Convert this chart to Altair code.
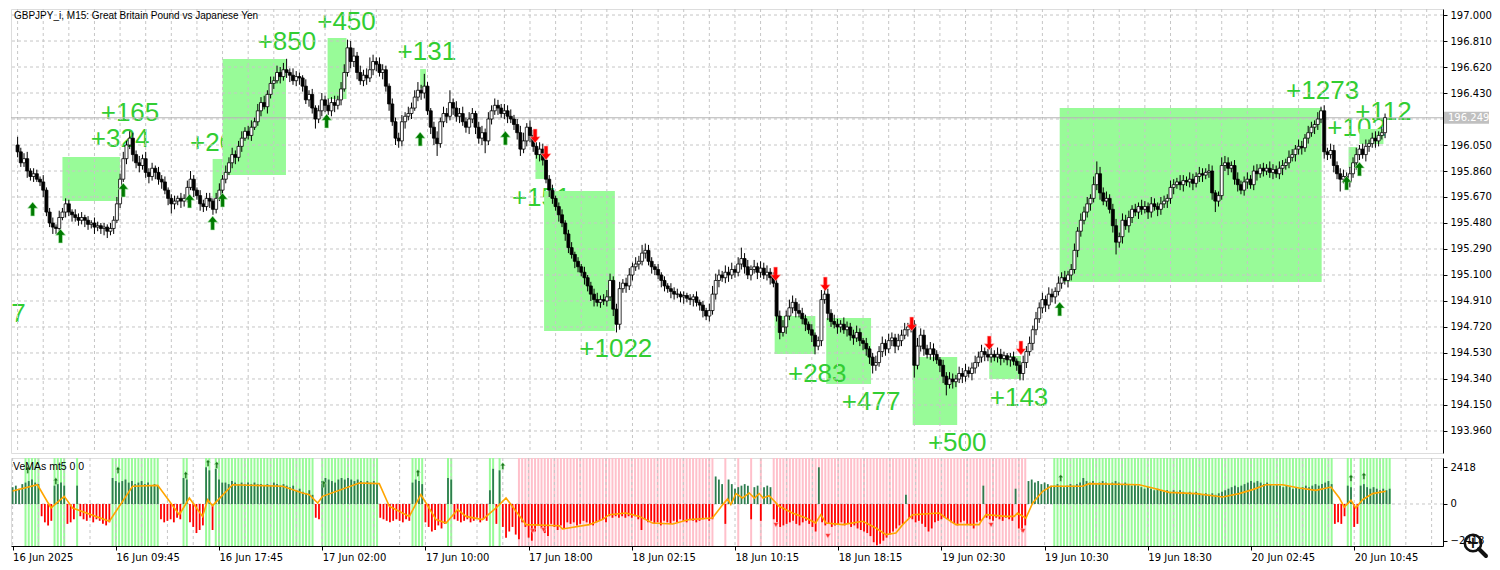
import json
import altair as alt
import pandas as pd

# ---------------- data ----------------
TITLE = "GBPJPY_i, M15:  Great Britain Pound vs Japanese Yen"
SUB_TITLE = "VeMAs mt5 0 0"
CURRENT = 196.249
FIRST_OPEN = 196.05

CLOSE = [
    196.00, 195.92, 195.95, 195.86, 195.82, 195.84, 195.80, 195.78, 195.72, 195.56,
    195.48, 195.45, 195.44, 195.52, 195.56, 195.62, 195.56, 195.54, 195.52, 195.50,
    195.52, 195.50, 195.47, 195.48, 195.45, 195.46, 195.44, 195.45, 195.42, 195.44,
    195.50, 195.62, 195.80, 195.95, 196.05, 196.10, 195.98, 195.92, 195.90, 195.95,
    195.85, 195.82, 195.88, 195.85, 195.80, 195.78, 195.72, 195.66, 195.62, 195.64,
    195.66, 195.64, 195.66, 195.74, 195.80, 195.72, 195.68, 195.62, 195.60, 195.66,
    195.64, 195.58, 195.66, 195.72, 195.80, 195.85, 195.92, 195.98, 195.96, 196.04,
    196.10, 196.15, 196.12, 196.18, 196.22, 196.30, 196.36, 196.33, 196.42, 196.50,
    196.52, 196.58, 196.55, 196.60, 196.58, 196.56, 196.52, 196.55, 196.54, 196.48,
    196.38, 196.42, 196.32, 196.24, 196.30, 196.38, 196.34, 196.30, 196.36, 196.34,
    196.38, 196.46, 196.58, 196.76, 196.66, 196.70, 196.58, 196.52, 196.56, 196.54,
    196.60, 196.66, 196.64, 196.58, 196.60, 196.48, 196.35, 196.22, 196.10, 196.08,
    196.22, 196.26, 196.28, 196.32, 196.40, 196.45, 196.43, 196.48, 196.30, 196.18,
    196.10, 196.06, 196.22, 196.28, 196.26, 196.36, 196.32, 196.26, 196.28, 196.22,
    196.18, 196.24, 196.28, 196.18, 196.10, 196.14, 196.08, 196.24, 196.30, 196.34,
    196.32, 196.28, 196.30, 196.26, 196.24, 196.20, 196.14, 196.02, 196.08, 196.18,
    196.12, 196.04, 195.98, 196.02, 195.94, 195.80, 195.72, 195.66, 195.60, 195.54,
    195.48, 195.40, 195.30, 195.25, 195.20, 195.16, 195.12, 195.08, 195.02, 194.96,
    194.92, 194.90, 194.92, 194.91, 194.94, 195.06, 194.85, 194.74, 195.00, 195.04,
    195.02, 195.10, 195.16, 195.18, 195.20, 195.26, 195.28, 195.20, 195.16, 195.14,
    195.10, 195.06, 195.02, 195.00, 194.98, 194.96, 194.96, 194.94, 194.95, 194.93,
    194.92, 194.94, 194.90, 194.88, 194.84, 194.80, 194.84, 194.96, 195.06, 195.10,
    195.08, 195.12, 195.10, 195.14, 195.12, 195.18, 195.22, 195.16, 195.10, 195.14,
    195.16, 195.12, 195.15, 195.10, 195.12, 195.08, 195.04, 194.80, 194.68, 194.72,
    194.80, 194.86, 194.90, 194.84, 194.82, 194.78, 194.74, 194.70, 194.66, 194.58,
    194.62, 194.92, 194.96, 194.82, 194.76, 194.74, 194.72, 194.74, 194.70, 194.72,
    194.66, 194.64, 194.68, 194.62, 194.60, 194.56, 194.50, 194.44, 194.46, 194.54,
    194.60, 194.56, 194.62, 194.64, 194.58, 194.62, 194.66, 194.70, 194.72, 194.74,
    194.44, 194.58, 194.66, 194.56, 194.52, 194.56, 194.52, 194.48, 194.44, 194.36,
    194.30, 194.34, 194.32, 194.34, 194.38, 194.36, 194.40, 194.38, 194.42, 194.46,
    194.50, 194.54, 194.52, 194.50, 194.52, 194.50, 194.52, 194.49, 194.51, 194.48,
    194.50, 194.47, 194.44, 194.38, 194.46, 194.54, 194.60, 194.70, 194.78, 194.86,
    194.92, 194.88, 194.96, 194.94, 194.98, 195.04, 195.08, 195.06, 195.10, 195.14,
    195.28, 195.42, 195.50, 195.56, 195.62, 195.66, 195.76, 195.84, 195.70, 195.64,
    195.66, 195.58, 195.46, 195.34, 195.38, 195.50, 195.46, 195.52, 195.58, 195.56,
    195.60, 195.58, 195.60, 195.56, 195.62, 195.60, 195.58, 195.62, 195.64, 195.66,
    195.74, 195.76, 195.78, 195.76, 195.79, 195.78, 195.80, 195.77, 195.82, 195.84,
    195.83, 195.85, 195.86, 195.70, 195.64, 195.68, 195.90, 195.92, 195.88, 195.90,
    195.80, 195.76, 195.72, 195.78, 195.80, 195.76, 195.86, 195.84, 195.88, 195.86,
    195.88, 195.85, 195.87, 195.84, 195.88, 195.90, 195.92, 195.96, 195.98, 196.02,
    196.04, 196.03, 196.10, 196.14, 196.18, 196.20, 196.24, 196.30, 196.00, 195.98,
    196.01, 195.90, 195.84, 195.80, 195.82, 195.78, 195.84, 195.92, 195.98, 196.02,
    195.98, 196.04, 196.06, 196.10, 196.08, 196.12, 196.14, 196.25,
]

# upper / lower shadow lengths, hundredths of a yen
WICK_HI = [
    6, 3, 4, 5, 2, 4, 3, 2, 5, 2,  3, 4, 2, 5, 3, 4, 3, 2, 4, 3,
    4, 2, 3, 2, 4, 3, 2, 3, 2, 4,  3, 5, 4, 5, 3, 5, 4, 3, 5, 3,
    5, 3, 4, 2, 4, 3, 4, 2, 3, 4,  2, 4, 3, 5, 6, 3, 2, 4, 3, 4,
    4, 2, 4, 5, 3, 5, 4, 5, 3, 4,  5, 3, 4, 5, 3, 5, 4, 5, 3, 5,
    3, 5, 4, 5, 8, 3, 5, 4, 3, 2,  5, 3, 4, 2, 4, 5, 3, 5, 4, 5,
    3, 5, 6, 6, 5, 6, 3, 5, 4, 5,  9, 5, 3, 5, 4, 3, 2, 4, 3, 4,
    5, 3, 5, 4, 5, 6, 4, 9, 3, 2,  4, 5, 3, 5, 4, 9, 3, 5, 4, 5,
    3, 5, 4, 2, 4, 5, 3, 5, 4, 5,  4, 3, 5, 4, 5, 3, 4, 5, 6, 3,
    5, 4, 3, 5, 4, 2, 3, 4, 2, 3,  4, 2, 3, 4, 2, 3, 2, 4, 2, 3,
    4, 5, 3, 4, 5, 5, 3, 4, 5, 3,  4, 5, 3, 5, 4, 6, 5, 4, 3, 2,
    4, 2, 3, 2, 4, 3, 4, 2, 3, 2,  3, 2, 4, 2, 3, 2, 5, 6, 5, 4,
    3, 5, 4, 5, 3, 5, 8, 4, 5, 3,  5, 3, 5, 4, 5, 3, 4, 3, 4, 5,
    4, 6, 5, 3, 5, 4, 3, 2, 4, 2,  3, 7, 5, 4, 3, 5, 4, 3, 5, 4,
    3, 4, 5, 3, 2, 4, 2, 3, 5, 4,  5, 3, 5, 4, 3, 5, 4, 5, 3, 4,
    3, 6, 5, 4, 3, 5, 4, 3, 2, 4,  3, 5, 4, 3, 5, 4, 5, 3, 4, 5,
    4, 5, 3, 4, 5, 3, 5, 4, 3, 2,  3, 4, 2, 3, 5, 4, 5, 3, 5, 4,
    5, 3, 5, 4, 3, 5, 4, 5, 3, 4,  5, 3, 5, 4, 5, 3, 6, 9, 5, 4,
    5, 3, 4, 5, 3, 5, 4, 5, 3, 4,  3, 5, 4, 3, 5, 4, 3, 5, 4, 3,
    5, 4, 3, 5, 4, 3, 5, 4, 3, 5,  4, 3, 5, 4, 2, 3, 6, 5, 4, 3,
    4, 5, 3, 4, 5, 3, 4, 5, 3, 4,  3, 5, 4, 3, 5, 4, 3, 5, 4, 3,
    5, 4, 3, 5, 4, 3, 5, 3, 4, 3,  5, 4, 3, 4, 5, 3, 5, 4, 5, 3,
    4, 5, 3, 4, 5, 3, 4, 3,
]
WICK_LO = [
    4, 3, 3, 5, 3, 4, 2, 3, 5, 3,  3, 5, 4, 3, 2, 4, 3, 5, 3, 4,
    3, 5, 4, 3, 5, 3, 4, 5, 5, 3,  4, 2, 3, 2, 4, 3, 5, 4, 5, 3,
    4, 5, 3, 5, 4, 5, 3, 5, 7, 4,  3, 5, 4, 3, 2, 5, 3, 5, 4, 3,
    5, 4, 3, 2, 4, 3, 2, 4, 5, 3,  4, 2, 3, 4, 2, 3, 4, 2, 5, 3,
    4, 2, 5, 3, 4, 5, 3, 4, 5, 4,  3, 5, 4, 7, 3, 4, 5, 3, 4, 5,
    3, 4, 2, 3, 5, 4, 5, 3, 4, 5,  3, 4, 5, 3, 5, 4, 5, 3, 5, 5,
    4, 5, 3, 4, 2, 3, 5, 4, 3, 5,  5, 9, 3, 4, 5, 3, 5, 4, 5, 3,
    4, 5, 3, 5, 4, 5, 9, 3, 4, 3,  5, 3, 4, 5, 3, 4, 5, 5, 3, 4,
    5, 4, 3, 5, 4, 3, 5, 4, 3, 5,  3, 5, 4, 3, 5, 4, 3, 5, 4, 5,
    5, 3, 4, 3, 4, 3, 5, 6, 4, 3,  5, 3, 4, 3, 4, 3, 4, 3, 5, 4,
    3, 5, 4, 3, 5, 4, 3, 4, 5, 3,  4, 5, 3, 4, 5, 3, 4, 3, 4, 5,
    3, 4, 5, 3, 4, 3, 4, 5, 3, 4,  3, 5, 4, 3, 4, 5, 3, 4, 5, 3,
    5, 3, 4, 5, 3, 4, 5, 3, 5, 6,  3, 4, 3, 5, 4, 3, 5, 4, 3, 5,
    4, 5, 3, 4, 5, 5, 5, 6, 4, 3,  4, 5, 3, 4, 5, 3, 4, 3, 5, 4,
    9, 3, 4, 5, 3, 4, 5, 3, 5, 5,  8, 3, 5, 4, 3, 5, 4, 3, 5, 4,
    3, 4, 5, 3, 4, 3, 4, 5, 3, 4,  5, 3, 4, 5, 5, 4, 3, 5, 4, 3,
    4, 5, 3, 4, 5, 3, 4, 3, 5, 4,  3, 5, 4, 3, 4, 5, 3, 4, 5, 3,
    4, 3, 5, 9, 4, 5, 3, 5, 4, 3,  5, 4, 3, 5, 4, 3, 5, 4, 3, 5,
    4, 5, 3, 4, 5, 3, 4, 5, 3, 4,  5, 3, 4, 5, 8, 4, 3, 4, 5, 3,
    4, 5, 3, 4, 5, 3, 4, 5, 3, 4,  3, 4, 5, 3, 4, 5, 3, 4, 3, 5,
    4, 5, 3, 4, 3, 5, 4, 3, 5, 4,  3, 5, 4, 9, 3, 5, 4, 3, 5, 4,
    3, 5, 4, 3, 5, 4, 3, 4,
]

# oscillator histogram, hundreds
HIST = [
    11, 12, 10, 13, 14, 15, 16, 14, 13, -8,
    -12, -14, -11, 12, 13, 14, 12, -13, -12, -10,
    12, -8, -10, -11, -9, -12, -10, -11, -13, -14,
    -12, 17, 15, 14, 15, 16, 14, 15, 13, 14,
    15, 13, 14, 12, 13, 12, -10, -12, -11, -10,
    -12, -9, -10, 17, 16, -12, -15, -19, -17, -14,
    24, 22, -17, 23, 16, 14, 14, 13, 15, 14,
    13, 14, 13, 14, 13, 14, 13, 13, 12, 13,
    12, 14, 13, 12, 13, 12, 11, 12, 9, 10,
    8, 7, 9, 6, -9, -10, 15, 17, 16, 15,
    14, 16, 17, 16, 17, 16, 15, 16, 15, 14,
    15, 14, 15, 13, -9, -10, -11, -12, -11, -10,
    -11, -12, -10, -11, 14, 16, 15, 13, -12, -15,
    -18, -17, -14, -16, -13, 17, 16, -10, -11, -12,
    -11, -10, -12, -11, -9, -12, -10, -11, 9, 23,
    -13, 22, -15, -22, -18, -15, -20, -23, -12, -15,
    -22, -24, -18, -14, -16, -19, -21, -13, -15, -17,
    -14, -16, -12, -13, -12, -14, -13, -11, -12, -13,
    -14, -12, -11, -10, -12, -8, -9, -8, -9, -8,
    -9, -8, -9, -8, -10, -17, -10, -12, -11, -13,
    -12, -14, -11, -12, -13, -11, -12, -10, -11, -12,
    -10, -11, -12, -11, -10, -9, -11, -10, 18, 16,
    13, -13, 16, 13, 10, 11, 12, 13, 12, -10,
    11, 12, -11, 11, 12, 11, -10, -12, -15, -14,
    -13, -12, -11, -13, -14, -12, -11, -13, -15, -18,
    24, -12, -14, -13, -15, -14, -13, -12, -14, -13,
    -15, -14, -16, -17, -18, -19, -21, -25, -27, -26,
    -24, -22, -20, -18, -16, -14, -13, 6, -9, -10,
    -12, -11, -13, -15, -18, -16, -12, -11, -10, -9,
    -10, -12, -13, -14, -12, -11, -13, -14, -16, -12,
    -11, 12, -9, -10, -11, -9, -10, -11, -9, -10,
    -11, 10, -16, -18, -14, 15, 16, 14, 15, 13,
    14, 13, 12, 12, 13, 12, 11, 12, 13, 12,
    13, 14, 17, 15, 14, 15, 13, 14, 15, 14,
    13, 14, 15, 14, 13, 14, 13, 12, 13, 12,
    11, 10, 11, 10, 9, 10, 9, 8, 9, 8,
    9, 8, 9, 8, 7, 8, 7, 8, 7, 6,
    7, 6, 7, 6, 7, 8, 9, 10, 11, 12,
    11, 12, 13, 14, 15, 14, 15, 14, 13, 14,
    13, 12, 13, 12, 11, 12, 11, 10, 11, 10,
    11, 12, 11, 12, 13, 12, 13, 14, 15, 13,
    -13, -12, -13, -8, 12, 11, -15, -13, 12, 13,
    11, 10, 11, 10, 9, 10, 9, 10,
]

# orange signal line (bar position, value)
LINE_BAR = [0, 7.7, 11.9, 16, 18.6, 30, 37.2, 45, 51.7, 54.8, 58.9, 60.5, 62, 68.2, 83.7,
            89.9, 92, 94.6, 96.1, 107.5, 113.7, 116.8, 123, 126.6, 131.3, 134.4, 138, 140.6,
            145.7, 149.9, 153, 159.2, 169.5, 170.5, 178.8, 182.9, 185, 190.2, 194.3, 198.4,
            204.7, 209.8, 217, 220.2, 221.7, 222.7, 224.3, 226.3, 228.4, 230, 231.5, 232.7,
            234.6, 237.7, 241.8, 246, 249, 250.6, 252.2, 257.4, 263.6, 267.7, 270.8, 273.9,
            276, 279.1, 287.3, 289.4, 292.5, 299.7, 300.3, 301.8, 308, 310.6, 311.6, 314.2,
            316.3, 319.4, 322, 331.8, 333.8, 349.3, 353.5, 358.6, 366.9, 375.2, 380.3, 384.5,
            388.6, 393.8, 398.9, 404.1, 408.8, 411.4, 412.9, 415, 416.5, 418.6, 421.7, 425.8]
LINE_VAL = [850, 1260, -260, 500, -260, -1130, 1160, 1220, -700, 390, -810, 280, -110, 1260, 1160,
            720, 610, 65, 500, 1370, 1330, -150, -810, 610, -1020, -1240, -370, -810,
            -1020, -260, 390, -1350, -1420, -1630, -1350, -1020, -700, -590, -810, -1240,
            -1310, -1020, -920, -40, 330, -40, 680, 390, 720, 390, 680, 390,
            550, -150, -590, -920, -1240, -700, -1240, -1350, -1130, -1570, -2000, -1900,
            -1350, -700, -590, -920, -1350, -1350, -1130, -700, -810, -810, -590, -920,
            65, 830, 1160, 1160, 1330, 1260, 1050, 760, 680, 460, 680, 940,
            1260, 1260, 1050, 890, 1110, 390, -200, 240, -260, 280, 680, 830]

# background stripes of the oscillator (first bar, last bar)
STRIPE_GREEN = [(4, 8), (13, 16), (20, 20), (31, 45), (53, 54), (60, 61), (63, 93), (96, 113),
                (124, 127), (135, 136), (148, 149), (151, 151), (323, 409), (414, 415), (418, 427)]
STRIPE_PINK = [(157, 217), (221, 221), (225, 225), (229, 229), (232, 232), (236, 314)]

# profit labels (ON_TOP = drawn over the boxes)
LABEL_TEXT = ["+165", "+324", "+203", "+850", "+450", "+131", "+151", "+1022", "+283", "+477",
              "+500", "+143", "+1273", "+102", "+112", "7"]
LABEL_BAR = [35.1, 32.0, 63.0, 84.1, 102.7, 127.8, 163.5, 186.8, 249.7, 266.5, 293.4, 312.7,
             407.5, 418.1, 426.5, 0.3]
LABEL_PRICE = [196.284, 196.094, 196.065, 196.803, 196.950, 196.730, 195.663, 194.559, 194.377,
               194.172, 193.872, 194.201, 196.445, 196.174, 196.291, 194.815]
LABEL_ON_TOP = [1, 1, 0, 1, 1, 1, 0, 1, 1, 1, 1, 1, 1, 0, 1, 1]

# trade boxes
RECT_X1 = [14.0, 60.9, 64.0, 96.8, 125.7, 164.4, 161.7, 236.4, 252.5, 279.5, 303.4, 325.4, 415.6, 419.0]
RECT_X2 = [32.0, 64.0, 83.8, 102.7, 127.5, 186.5, 164.4, 249.1, 266.5, 293.4, 313.3, 407.2, 418.4, 426.5]
RECT_TOP = [195.962, 195.948, 196.678, 196.832, 196.605, 195.714, 196.006, 194.800, 194.786,
            194.501, 194.508, 196.320, 196.035, 196.167]
RECT_BOT = [195.641, 195.663, 195.831, 196.386, 196.467, 194.691, 195.802, 194.523, 194.303,
            194.004, 194.340, 195.049, 195.882, 196.057]

# signal arrows
UP_BAR = [4.7, 13.4, 33.0, 53.7, 60.9, 64.0, 96.5, 125.7, 152.3, 325.4, 415.0, 419.0]
UP_PRICE = [195.582, 195.385, 195.721, 195.641, 195.480, 195.648, 196.225, 196.094, 196.101,
            194.852, 195.772, 195.875]
DN_BAR = [161.6, 165.0, 236.7, 252.2, 279.2, 303.4, 313.3]
DN_PRICE = [196.116, 195.992, 195.107, 195.034, 194.742, 194.603, 194.567]
SUB_UP_BAR = [4.7, 13.4, 32.7, 53.7, 60.6, 63.3, 96.5, 125.7, 152.0, 325.0, 415.0, 419.0]
SUB_UP_VAL = [2220, 1500, 2220, 1900, 2680, 2550, 1300, 2030, 2480, 1700, 1700, 1830]
SUB_DN_BAR = [161.3, 164.7, 236.7, 252.8, 303.4, 313.3]
SUB_DN_VAL = [-1770, -1700, -1370, -2090, -1370, -1770]

# axes
Y_TICKS = [193.96, 194.15, 194.34, 194.53, 194.72, 194.91, 195.10, 195.29, 195.48, 195.67,
           195.86, 196.05, 196.24, 196.43, 196.62, 196.81, 197.00]
Y_LABELED = [v for v in Y_TICKS if v != 196.24]
SUB_TICKS = [-2418, 0, 2418]
X_TICK_BARS = [0, 32, 64, 96, 128, 160, 192, 224, 256, 288, 320, 352, 384, 416]
X_LABELS = ["16 Jun 2025", "16 Jun 09:45", "16 Jun 17:45", "17 Jun 02:00", "17 Jun 10:00",
            "17 Jun 18:00", "18 Jun 02:15", "18 Jun 10:15", "18 Jun 18:15", "19 Jun 02:30",
            "19 Jun 10:30", "19 Jun 18:30", "20 Jun 02:45", "20 Jun 10:45"]
GRID_BARS = list(range(0, 448, 8))

# ---------------- layout ----------------
W, H1, H2 = 1432, 444, 88
XDOM = [-0.5, -0.5 + W / 3.225]
YDOM = [193.799, 197.044]
SDOM = [-2747, 3008]
FONT = "DejaVu Sans"

n = len(CLOSE)
assert len(WICK_HI) == n and len(WICK_LO) == n and len(HIST) == n
OPEN = [FIRST_OPEN] + CLOSE[:-1]
HIGH = [round(max(o, c) + h / 100, 3) for o, c, h in zip(OPEN, CLOSE, WICK_HI)]
LOW = [round(min(o, c) - l / 100, 3) for o, c, l in zip(OPEN, CLOSE, WICK_LO)]
candles = pd.DataFrame({"i": list(range(n)), "o": OPEN, "c": CLOSE, "h": HIGH, "l": LOW})
candles["fill"] = ["#ffffff" if c >= o else "#000000" for o, c in zip(OPEN, CLOSE)]

xs = alt.Scale(domain=XDOM, nice=False, zero=False)
ys = alt.Scale(domain=YDOM, nice=False, zero=False)
ss = alt.Scale(domain=SDOM, nice=False, zero=False)

yax = alt.Axis(orient="right", values=Y_LABELED, format=".3f", grid=False, title=None,
               labelFont=FONT, labelFontSize=10, labelColor="black", tickColor="black",
               domainColor="black", tickSize=4, labelPadding=3)
sax = alt.Axis(orient="right", values=SUB_TICKS, format="d", grid=False, title=None,
               labelFont=FONT, labelFontSize=10, labelColor="black", tickColor="black",
               domainColor="black", tickSize=4, labelPadding=3)
xax = alt.Axis(values=X_TICK_BARS, labelExpr=json.dumps(X_LABELS) + "[round(datum.value/32)]",
               labelAlign="left", labelPadding=2, tickSize=4, tickColor="black",
               domainColor="black", labelColor="black", labelFont=FONT, labelFontSize=10,
               grid=False, title=None, labelOverlap=False, labelFlush=False)


def X(f):
    return alt.X(f, type="quantitative", scale=xs, axis=None)


def XB(f):
    return alt.X(f, type="quantitative", scale=xs, axis=xax)


def Y(f):
    return alt.Y(f, type="quantitative", scale=ys, axis=yax)


def SY(f):
    return alt.Y(f, type="quantitative", scale=ss, axis=sax)


UP_PATH = "M0,-1L0.72,-0.12L0.28,-0.12L0.28,1L-0.28,1L-0.28,-0.12L-0.72,-0.12Z"
DN_PATH = "M0,1L0.72,0.12L0.28,0.12L0.28,-1L-0.28,-1L-0.28,0.12L-0.72,0.12Z"

labels_df = pd.DataFrame({"t": LABEL_TEXT, "b": LABEL_BAR, "p": LABEL_PRICE, "top": LABEL_ON_TOP})
rects_df = pd.DataFrame({"x1": RECT_X1, "x2": RECT_X2, "top": RECT_TOP, "bot": RECT_BOT})
xgrid_df = pd.DataFrame({"b": GRID_BARS})
ygrid_df = pd.DataFrame({"p": Y_TICKS})
up_df = pd.DataFrame({"b": UP_BAR, "p": UP_PRICE})
dn_df = pd.DataFrame({"b": DN_BAR, "p": DN_PRICE})
cur_df = pd.DataFrame({"p": [CURRENT], "top": [CURRENT + 0.044], "bot": [CURRENT - 0.044],
                       "t": [f"{CURRENT:.3f}"]})


def label_layer(flag):
    return alt.Chart(labels_df[labels_df.top == flag]).mark_text(
        font="Liberation Sans", fontSize=26, color="#32CD32", clip=True).encode(
        x=X("b"), y=Y("p"), text="t:N")


labels_under = label_layer(0)
labels_over = label_layer(1)
rects = alt.Chart(rects_df).mark_rect(color="#98FB98").encode(
    x=X("x1"), x2="x2", y=Y("top"), y2="bot")
xgrid = alt.Chart(xgrid_df).mark_rule(color="#c6c6c6", strokeDash=[3, 3], strokeWidth=1).encode(x=X("b"))
ygrid = alt.Chart(ygrid_df).mark_rule(color="#c6c6c6", strokeDash=[3, 3], strokeWidth=1).encode(y=Y("p"))
curline = alt.Chart(cur_df).mark_rule(color="#b4b4b4", strokeWidth=1).encode(y=Y("p"))
wicks = alt.Chart(candles).mark_rule(color="black", strokeWidth=1).encode(x=X("i"), y=Y("l"), y2="h")
bodies = alt.Chart(candles).mark_bar(size=3, stroke="black", strokeWidth=0.8).encode(
    x=X("i"), y=Y("o"), y2="c", fill=alt.Fill("fill:N", scale=None))
ups = alt.Chart(up_df).mark_point(shape=UP_PATH, filled=True, fill="#007a00", stroke="#b8f0b8",
                                  strokeWidth=0.6, size=196, opacity=1).encode(x=X("b"), y=Y("p"))
dns = alt.Chart(dn_df).mark_point(shape=DN_PATH, filled=True, fill="#ff0000", stroke="#ffc0c0",
                                  strokeWidth=0.6, size=196, opacity=1).encode(x=X("b"), y=Y("p"))
title = alt.Chart(pd.DataFrame({"t": [TITLE]})).mark_text(
    align="left", baseline="middle", font="Liberation Sans", fontSize=10, color="black").encode(
    x=alt.value(3), y=alt.value(7), text="t:N")
curbox = alt.Chart(cur_df).mark_rect(color="#c0c0c0").encode(
    x=alt.value(W + 1), x2=alt.value(W + 46), y=Y("top"), y2="bot")
curtext = alt.Chart(cur_df).mark_text(align="left", baseline="middle", font=FONT, fontSize=10,
                                      color="white").encode(x=alt.value(W + 5), y=Y("p"), text="t:N")

main = alt.layer(labels_under, rects, labels_over, xgrid, ygrid, curline, wicks, bodies, ups, dns,
                 title, curbox, curtext).properties(width=W, height=H1)

# ---------------- oscillator panel ----------------
srows = []
for a, b in STRIPE_GREEN:
    for k in range(a, b + 1):
        srows.append({"b": k, "c": "#98FB98"})
for a, b in STRIPE_PINK:
    for k in range(a, b + 1):
        srows.append({"b": k, "c": "#FFC0CB"})
stripe_df = pd.DataFrame(srows)
hist_df = pd.DataFrame({"i": list(range(n)), "v": [h * 100 for h in HIST]})
hist_df["c"] = ["#2E7D4F" if v > 0 else "#FF0000" for v in hist_df.v]
line_df = pd.DataFrame({"b": LINE_BAR, "v": LINE_VAL})
sup_df = pd.DataFrame({"b": SUB_UP_BAR, "v": SUB_UP_VAL})
sdn_df = pd.DataFrame({"b": SUB_DN_BAR, "v": SUB_DN_VAL})

stripes = alt.Chart(stripe_df).mark_rule(strokeWidth=2).encode(
    x=XB("b"), color=alt.Color("c:N", scale=None))
sxgrid = alt.Chart(xgrid_df).mark_rule(color="#c6c6c6", strokeDash=[3, 3], strokeWidth=1).encode(x=XB("b"))
zero = alt.Chart(pd.DataFrame({"v": [0]})).mark_rule(color="#c6c6c6", strokeDash=[3, 3]).encode(y=SY("v"))
hist = alt.Chart(hist_df).mark_rule(strokeWidth=1.8).encode(
    x=XB("i"), y=SY("v"), y2=alt.datum(0), color=alt.Color("c:N", scale=None))
sig = alt.Chart(line_df).mark_line(color="#FFA500", strokeWidth=1.6).encode(x=XB("b"), y=SY("v"))
sups = alt.Chart(sup_df).mark_point(shape=UP_PATH, filled=True, fill="#1a7a1a", stroke="#c8f5c8",
                                    strokeWidth=0.5, size=50, opacity=1).encode(x=XB("b"), y=SY("v"))
sdns = alt.Chart(sdn_df).mark_point(shape="triangle-down", filled=True, fill="#ff3030",
                                    stroke="#ffc8c8", strokeWidth=0.5, size=28, opacity=1).encode(
    x=XB("b"), y=SY("v"))
stitle = alt.Chart(pd.DataFrame({"t": [SUB_TITLE]})).mark_text(
    align="left", baseline="middle", font="Liberation Sans", fontSize=10.5, color="black").encode(
    x=alt.value(2), y=alt.value(9), text="t:N")
icon_df = pd.DataFrame({"k": [1]})
mag_circle = alt.Chart(icon_df).mark_point(shape="circle", filled=False, stroke="#111111",
                                           strokeWidth=2.6, size=270, opacity=1).encode(
    x=alt.value(1462), y=alt.value(85))
mag_plus = alt.Chart(icon_df).mark_text(text="+", font="DejaVu Sans", fontSize=16, fontWeight="bold",
                                        color="#111111", baseline="middle").encode(
    x=alt.value(1462), y=alt.value(85))
mag_handle = alt.Chart(icon_df).mark_rule(color="#111111", strokeWidth=4, strokeCap="round").encode(
    x=alt.value(1468), x2=alt.value(1475), y=alt.value(91), y2=alt.value(98))

sub = alt.layer(stripes, sxgrid, zero, hist, sig, sups, sdns, stitle,
                mag_circle, mag_plus, mag_handle).properties(width=W, height=H2)

chart = alt.vconcat(main, sub, spacing=2).properties(padding=0).configure_view(
    stroke="#8c8c8c", strokeWidth=1).configure(background="white")

chart.save("out.html", embed_options={"renderer": "svg", "actions": False})
